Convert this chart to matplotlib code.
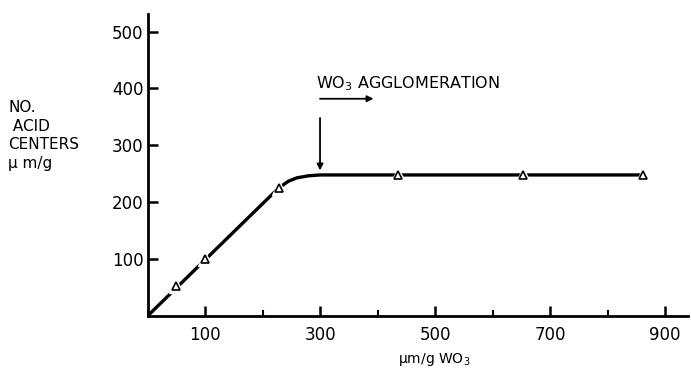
import matplotlib
matplotlib.use("Agg")
import matplotlib.pyplot as plt
from matplotlib.ticker import MultipleLocator

# measured points (triangles)
wo3_points = [50, 100, 228, 436, 653, 861]
acid_points = [53, 100, 225, 248, 248, 248]

# smooth curve drawn through the data
curve_x = [0, 228, 245, 260, 280, 300, 861]
curve_y = [0, 225, 237, 243, 246.5, 248, 248]

xticks = [100, 300, 500, 700, 900]
yticks = [100, 200, 300, 400, 500]

fig = plt.figure(figsize=(6.91, 3.72), dpi=100)
ax = fig.add_axes([0.2135, 0.1505, 0.7822, 0.8119])
ax.set_xlim(0, 940)
ax.set_ylim(0, 531)

ax.plot(curve_x, curve_y, color="black", lw=2.4, solid_capstyle="butt", zorder=2)
ax.plot(wo3_points, acid_points, linestyle="none", marker="^", ms=10,
        mfc="white", mec="white", zorder=3)
ax.plot(wo3_points, acid_points, linestyle="none", marker="^", ms=6,
        mfc="white", mec="black", mew=1.2, zorder=4)

for s in ("top", "right"):
    ax.spines[s].set_visible(False)
for s in ("left", "bottom"):
    ax.spines[s].set_linewidth(2)

ax.set_xticks(xticks)
ax.set_yticks(yticks)
ax.xaxis.set_minor_locator(MultipleLocator(100))
ax.tick_params(axis="both", which="major", direction="in", length=7, width=1.8,
               labelsize=12)
ax.tick_params(axis="y", which="major", pad=3)
ax.tick_params(axis="x", which="major", pad=7)
ax.tick_params(axis="x", which="minor", direction="in", length=4, width=1.5)
ax.tick_params(axis="y", which="minor", left=False)

fig.text(0.012, 0.636, "NO.\n ACID\nCENTERS\nμ m/g", fontsize=11, ha="left",
         va="center", linespacing=1.3)

ax.set_xlabel("μm/g WO$_3$", fontsize=10, labelpad=10)
ax.xaxis.set_label_coords(0.53, -0.115)

ax.text(293, 401, "WO$_3$ AGGLOMERATION", fontsize=11.5, ha="left", va="baseline")
ax.annotate("", xy=(393, 382), xytext=(300, 382),
            arrowprops=dict(arrowstyle="-|>", color="black", lw=1.3,
                            mutation_scale=9, shrinkA=0, shrinkB=0))
ax.annotate("", xy=(300, 256), xytext=(300, 348),
            arrowprops=dict(arrowstyle="-|>", color="black", lw=1.3,
                            mutation_scale=9, shrinkA=0, shrinkB=0))

fig.savefig("out.png", dpi=100)
